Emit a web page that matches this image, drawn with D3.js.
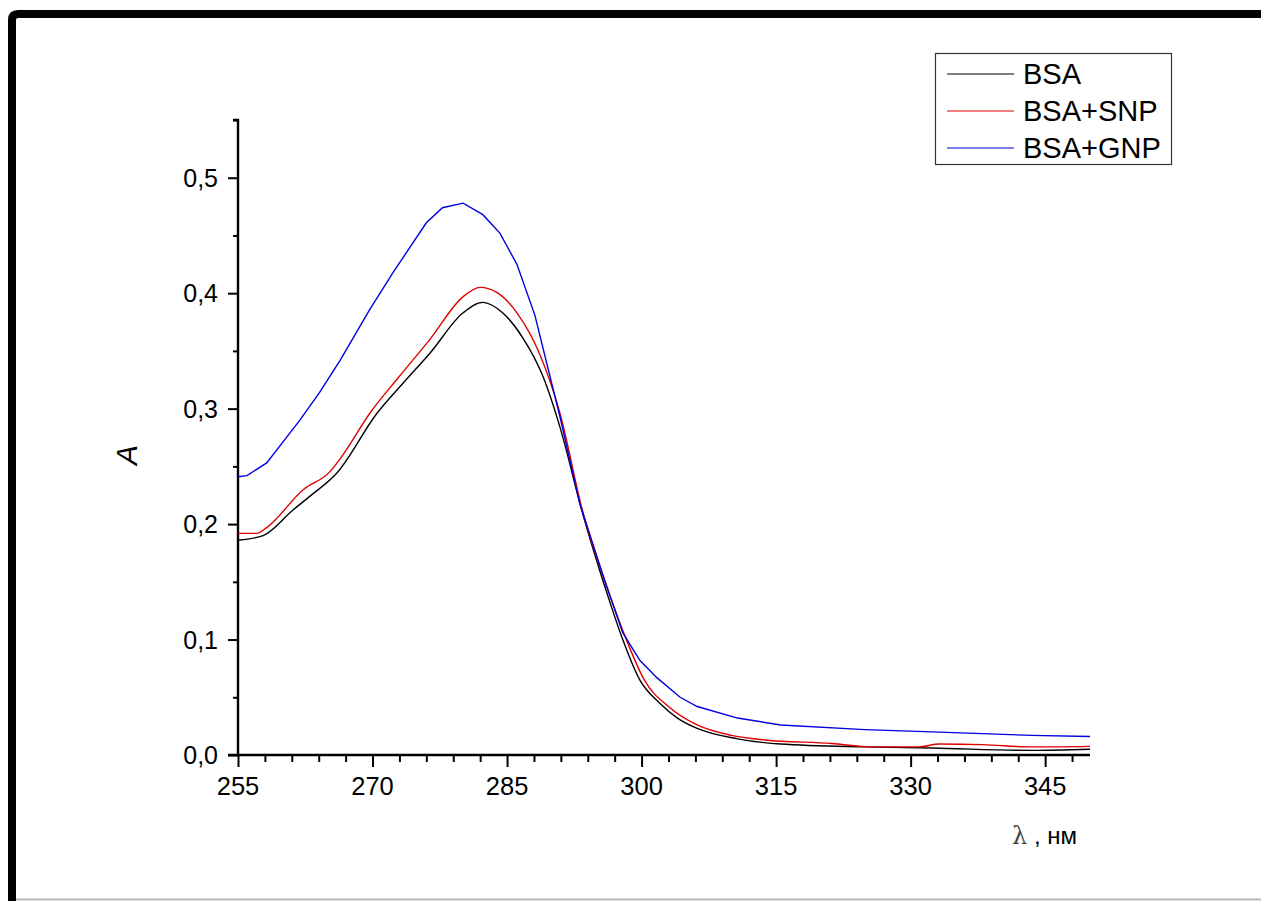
<!DOCTYPE html>
<html>
<head>
<meta charset="utf-8">
<script src="https://cdn.jsdelivr.net/npm/d3@7"></script>
<style>
  html, body { margin: 0; padding: 0; background: #fff; }
  svg { display: block; font-family: "Liberation Sans", Arial, sans-serif; }
</style>
</head>
<body>
<script>
// data (wavelength nm, absorbance)
const seriesNames = ["BSA", "BSA+SNP", "BSA+GNP"];
const seriesColors = ["#000000", "#e00000", "#0000e0"];

const bsaWl = [255, 257.8, 261.1, 263, 266, 270.5, 273.4, 276.4, 280.1, 282.3, 284.5, 286.7, 289, 290.9, 293.4, 296.4, 297.9, 299.8, 302, 304, 306.2, 310.7, 315.5, 324.9, 332.4, 343.5, 350];
const bsaA  = [0.186, 0.190, 0.212, 0.224, 0.244, 0.296, 0.322, 0.348, 0.383, 0.392, 0.383, 0.362, 0.328, 0.284, 0.210, 0.134, 0.100, 0.065, 0.045, 0.032, 0.023, 0.014, 0.0095, 0.007, 0.006, 0.004, 0.005];

const snpWl = [255, 257.1, 258.2, 262.3, 265.2, 266.7, 269.7, 273, 276.4, 280.1, 282, 283.8, 286.1, 288.6, 290.9, 293.4, 296.4, 298.3, 300.3, 303, 306.2, 310, 313.8, 321.2, 325.7, 330.9, 333.2, 338, 343.5, 350];
const snpA  = [0.192, 0.192, 0.197, 0.230, 0.245, 0.260, 0.296, 0.328, 0.360, 0.397, 0.405, 0.401, 0.383, 0.348, 0.296, 0.212, 0.140, 0.100, 0.065, 0.042, 0.026, 0.017, 0.013, 0.010, 0.007, 0.007, 0.0095, 0.009, 0.007, 0.0075];

const gnpWl = [255, 256, 258.2, 261.9, 264.1, 266.4, 269.7, 272.3, 276, 277.8, 280.1, 282.3, 284.2, 286.1, 288.1, 290.9, 293.1, 296.1, 297.9, 299.8, 301.7, 304.3, 306.2, 310.7, 315.5, 324.9, 332.4, 343.5, 350];
const gnpA  = [0.241, 0.242, 0.253, 0.290, 0.314, 0.342, 0.386, 0.418, 0.461, 0.474, 0.478, 0.468, 0.452, 0.425, 0.381, 0.293, 0.218, 0.146, 0.106, 0.082, 0.067, 0.050, 0.042, 0.032, 0.026, 0.022, 0.020, 0.017, 0.016];

const xTicks = [255, 270, 285, 300, 315, 330, 345];
const yTicks = [0, 0.1, 0.2, 0.3, 0.4, 0.5];

const width = 1261, height = 901;
const svg = d3.select("body").append("svg")
    .attr("width", width)
    .attr("height", height);

// page frame
svg.append("path")
    .attr("d", "M12,901 L12,20 Q12,14 18,14 L1261,14")
    .attr("fill", "none")
    .attr("stroke", "#000")
    .attr("stroke-width", 8);
svg.append("line")
    .attr("x1", 16).attr("x2", width)
    .attr("y1", 899.5).attr("y2", 899.5)
    .attr("stroke", "#b8b8b8")
    .attr("stroke-width", 2);

const x = d3.scaleLinear().domain([255, 350]).range([238, 1090]);
const y = d3.scaleLinear().domain([0, 0.55]).range([755, 120]);

const fmt = d => d3.format(".1f")(d).replace(".", ",");

// x axis
const gx = svg.append("g").attr("transform", `translate(0,${y(0)})`);
gx.call(d3.axisBottom(x).tickValues(d3.range(255, 351, 3)).tickSize(7).tickFormat(""));
gx.call(g => g.selectAll(".tick").filter(d => xTicks.includes(d)).select("line").attr("y2", 12));
gx.selectAll(".tick line").attr("stroke-width", 2);
gx.select(".domain").attr("stroke-width", 2.4).attr("d", `M${x(255) - 10},0H${x(350)}`);
gx.selectAll(".label").data(xTicks).enter().append("text")
    .attr("x", d => x(d))
    .attr("y", 40)
    .attr("text-anchor", "middle")
    .attr("font-size", 25.5)
    .attr("fill", "#000")
    .text(d => d);

// y axis
const gy = svg.append("g").attr("transform", `translate(${x(255)},0)`);
gy.call(d3.axisLeft(y).tickValues(d3.range(0, 0.551, 0.05)).tickSize(5).tickFormat(""));
gy.call(g => g.selectAll(".tick").filter(d => yTicks.some(t => Math.abs(t - d) < 1e-6)).select("line").attr("x2", -10));
gy.selectAll(".tick line").attr("stroke-width", 2);
gy.select(".domain").attr("stroke-width", 2.4).attr("d", `M-5,${y(0.55)}H0V${y(0)}`);
gy.selectAll(".label").data(yTicks).enter().append("text")
    .attr("x", -20)
    .attr("y", d => y(d) + 9)
    .attr("text-anchor", "end")
    .attr("font-size", 25)
    .attr("fill", "#000")
    .text(fmt);

// axis titles
svg.append("text")
    .attr("transform", "translate(137,455) rotate(-90)")
    .attr("text-anchor", "middle")
    .attr("font-size", 30)
    .attr("font-style", "italic")
    .text("A");
const xt = svg.append("text")
    .attr("x", 1012).attr("y", 844)
    .attr("font-size", 24);
xt.append("tspan").attr("fill", "#444").attr("font-family", "DejaVu Serif").text("λ");
xt.append("tspan").text(" , нм");

// curves
const series = [
    {wl: bsaWl, a: bsaA, curve: d3.curveMonotoneX},
    {wl: snpWl, a: snpA, curve: d3.curveMonotoneX},
    {wl: gnpWl, a: gnpA, curve: d3.curveLinear}
];
series.forEach((s, i) => {
    const line = d3.line()
        .x(d => x(d[0]))
        .y(d => y(d[1]))
        .curve(s.curve);
    svg.append("path")
        .datum(d3.zip(s.wl, s.a))
        .attr("d", line)
        .attr("fill", "none")
        .attr("stroke", seriesColors[i])
        .attr("stroke-width", 1.4);
});

// legend
const lg = svg.append("g");
lg.append("rect")
    .attr("x", 935.5).attr("y", 53.5)
    .attr("width", 236).attr("height", 111)
    .attr("fill", "#fff")
    .attr("stroke", "#333")
    .attr("stroke-width", 1.2);
seriesNames.forEach((n, i) => {
    const yy = 74 + i * 37;
    lg.append("line")
        .attr("x1", 947).attr("x2", 1014)
        .attr("y1", yy).attr("y2", yy)
        .attr("stroke", seriesColors[i])
        .attr("stroke-width", 1.2);
    lg.append("text")
        .attr("x", 1023).attr("y", yy + 10)
        .attr("font-size", 29)
        .text(n);
});
</script>
</body>
</html>
